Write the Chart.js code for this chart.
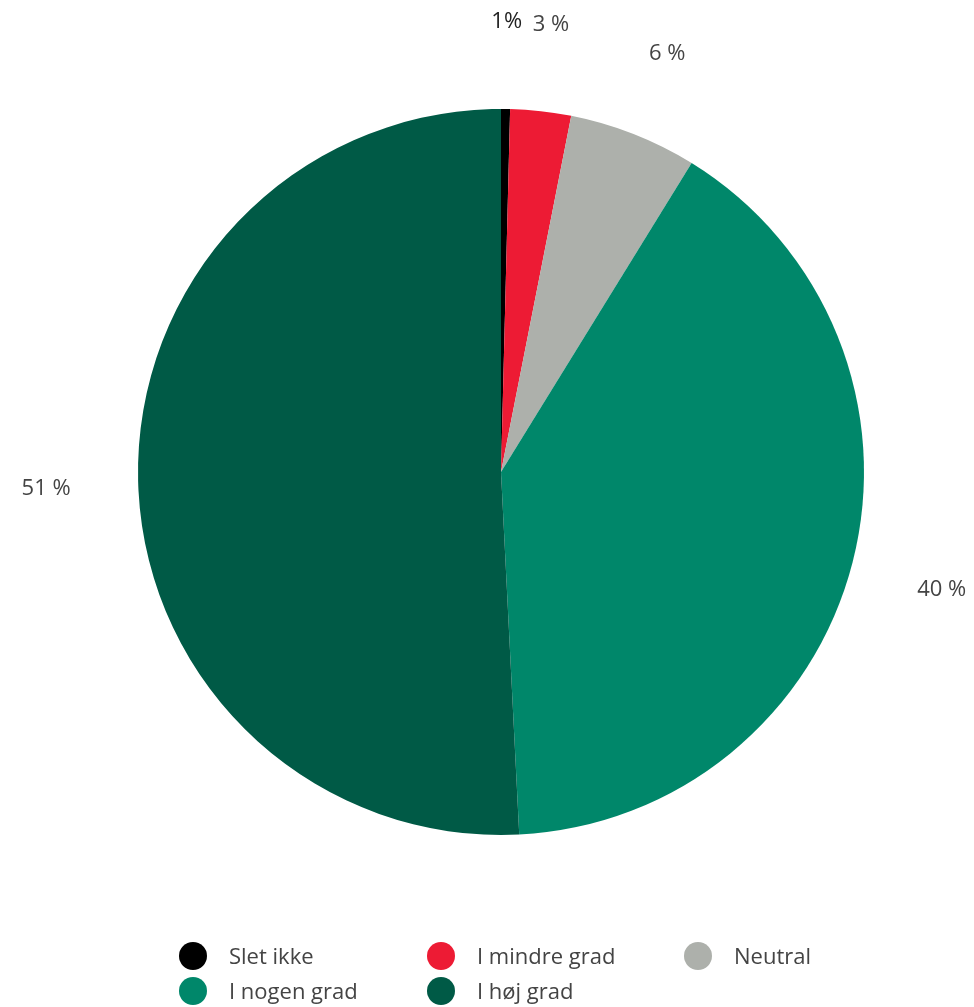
<!DOCTYPE html>
<html>
<head>
<meta charset="utf-8">
<script src="https://cdn.jsdelivr.net/npm/chart.js@4/dist/chart.umd.min.js"></script>
<style>
  html, body { margin: 0; padding: 0; background: #fff; }
  #wrap { width: 974px; height: 1007px; position: relative; }
</style>
</head>
<body>
<div id="wrap"><canvas id="myChart"></canvas></div>
<script>
// answer categories, shares (percent) and printed labels
const categories = ['Slet ikke', 'I mindre grad', 'Neutral', 'I nogen grad', 'I høj grad'];
const shares = [0.4, 2.7, 5.7, 40.4, 50.8];
const shareLabels = ['1%', '3 %', '6 %', '40 %', '51 %'];
const sliceColors = ['#000000', '#ED1B34', '#ADB0AB', '#00876A', '#005A46'];
const labelColors = ['#222222', '#444444', '#444444', '#444444', '#444444'];

const fontFamily = "'Open Sans', 'Noto Sans', sans-serif";

// puts the percent text outside each slice along its mid angle
const outsideLabels = {
  id: 'outsideLabels',
  afterDatasetsDraw: function(chart) {
    const ctx = chart.ctx;
    const meta = chart.getDatasetMeta(0);
    ctx.save();
    ctx.font = '22px ' + fontFamily;
    ctx.textAlign = 'center';
    ctx.textBaseline = 'middle';
    meta.data.forEach(function(arc, i) {
      const mid = (arc.startAngle + arc.endAngle) / 2;
      const r = arc.outerRadius + 92;
      ctx.fillStyle = labelColors[i];
      ctx.fillText(shareLabels[i], arc.x + Math.cos(mid) * r, arc.y + Math.sin(mid) * r + 5);
    });
    ctx.restore();
  }
};

// legend laid out in fixed columns (3 per row)
const gridLegend = {
  id: 'gridLegend',
  afterDraw: function(chart) {
    const ctx = chart.ctx;
    const colX = [193, 441, 698];
    const rowY = [956, 991];
    ctx.save();
    ctx.font = '22px ' + fontFamily;
    ctx.textBaseline = 'middle';
    categories.forEach(function(name, i) {
      const x = colX[i % 3];
      const y = rowY[Math.floor(i / 3)];
      ctx.beginPath();
      ctx.arc(x, y, 14, 0, Math.PI * 2);
      ctx.fillStyle = sliceColors[i];
      ctx.fill();
      ctx.fillStyle = '#444444';
      ctx.fillText(name, x + 36, y + 2);
    });
    ctx.restore();
  }
};

const ctx = document.getElementById('myChart');
const chart = new Chart(ctx, {
  type: 'pie',
  data: {
    labels: categories,
    datasets: [{
      data: shares,
      backgroundColor: sliceColors,
      borderWidth: 0
    }]
  },
  options: {
    responsive: true,
    maintainAspectRatio: false,
    animation: false,
    layout: {
      padding: { left: 138, right: 110, top: 109, bottom: 172 }
    },
    plugins: {
      legend: { display: false },
      tooltip: { enabled: false }
    }
  },
  plugins: [outsideLabels, gridLegend]
});
</script>
</body>
</html>
